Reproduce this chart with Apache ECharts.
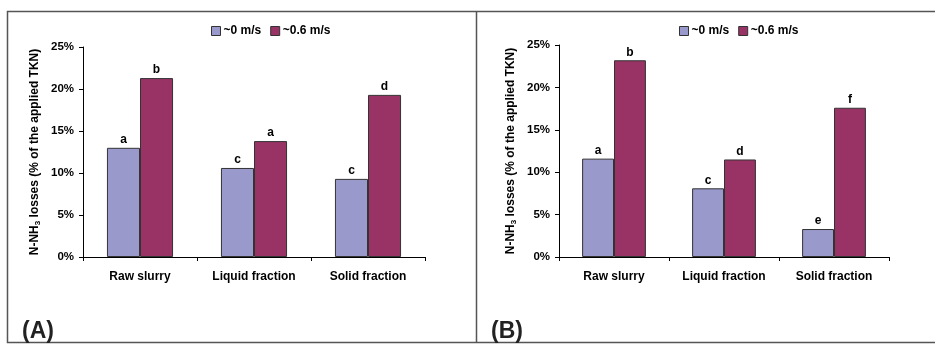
<!DOCTYPE html>
<html>
<head>
<meta charset="utf-8">
<script src="https://cdn.jsdelivr.net/npm/echarts@6/dist/echarts.min.js"></script>
<style>
  html, body { margin: 0; padding: 0; background: #fff; }
  #chart { width: 935px; height: 345px; }
</style>
</head>
<body>
<div id="chart"></div>
<script>
const categories = ["Raw slurry", "Liquid fraction", "Solid fraction"];
const seriesNames = ["~0 m/s", "~0.6 m/s"];
// panel A values (% of applied TKN)
const calmA = [13.0, 10.6, 9.3];
const windA = [21.3, 13.8, 19.3];
const calmLettersA = ["a", "c", "c"];
const windLettersA = ["b", "a", "d"];
// panel B values
const calmB = [11.6, 8.1, 3.3];
const windB = [23.2, 11.5, 17.6];
const calmLettersB = ["a", "c", "e"];
const windLettersB = ["b", "d", "f"];
const yTicks = [0, 5, 10, 15, 20, 25];

const FONT = "Liberation Sans, Arial, sans-serif";
const BLUE = "#9999cc";
const RED = "#993366";

const chart = echarts.init(document.getElementById("chart"));

function makeLegend(left) {
  return {
    left,
    top: 20,
    itemWidth: 9,
    itemHeight: 9,
    itemGap: 9,
    icon: "rect",
    itemStyle: { borderColor: "#333", borderWidth: 1 },
    textStyle: { fontFamily: FONT, fontWeight: "bold", fontSize: 12, color: "#000", padding: [0, 0, 0, -2] },
    data: seriesNames,
  };
}

function makeX(gridIndex) {
  return {
    type: "category",
    gridIndex,
    data: categories,
    axisLine: { lineStyle: { color: "#000", width: 1 } },
    axisTick: { show: true, length: 4, lineStyle: { color: "#000" } },
    axisLabel: { fontFamily: FONT, fontWeight: "bold", fontSize: 12, color: "#000", margin: 14 },
  };
}

function makeY(gridIndex) {
  return {
    type: "value",
    gridIndex,
    min: yTicks[0],
    max: yTicks[yTicks.length - 1],
    interval: 5,
    name: "{t|N-NH}{s|3}{t| losses (% of the applied TKN)}",
    nameLocation: "middle",
    nameRotate: 90,
    nameGap: 41,
    nameTextStyle: {
      rich: {
        t: { fontFamily: FONT, fontWeight: "bold", fontSize: 12, color: "#000" },
        s: { fontFamily: FONT, fontWeight: "bold", fontSize: 8, color: "#000", verticalAlign: "bottom", padding: [6, 0, 0, 0] },
      },
    },
    axisLine: { show: true, lineStyle: { color: "#000", width: 1 } },
    axisTick: { show: true, length: 4, lineStyle: { color: "#000" } },
    axisLabel: { fontFamily: FONT, fontWeight: "bold", fontSize: 11.5, color: "#000", margin: 9, formatter: "{value}%" },
    splitLine: { show: false },
  };
}

function makeBar(name, idx, data, letters, color) {
  return {
    name,
    type: "bar",
    xAxisIndex: idx,
    yAxisIndex: idx,
    data,
    barGap: "0%",
    barCategoryGap: "42%",
    itemStyle: { color, borderColor: "#333", borderWidth: 1 },
    label: {
      show: true,
      position: "top",
      distance: 2,
      fontFamily: FONT,
      fontWeight: "bold",
      fontSize: 12,
      color: "#000",
      formatter: (p) => letters[p.dataIndex],
    },
    emphasis: { disabled: true },
  };
}

chart.setOption({
  animation: false,
  color: [BLUE, RED],
  legend: [makeLegend(206), makeLegend(674)],
  grid: [
    { left: 83, right: 510, top: 47, bottom: 88 },
    { left: 559, right: 46, top: 45, bottom: 88 },
  ],
  xAxis: [makeX(0), makeX(1)],
  yAxis: [makeY(0), makeY(1)],
  series: [
    makeBar(seriesNames[0], 0, calmA, calmLettersA, BLUE),
    makeBar(seriesNames[1], 0, windA, windLettersA, RED),
    makeBar(seriesNames[0], 1, calmB, calmLettersB, BLUE),
    makeBar(seriesNames[1], 1, windB, windLettersB, RED),
  ],
  graphic: [
    { type: "rect", shape: { x: 7.5, y: 11.5, width: 940, height: 331 }, style: { fill: "none", stroke: "#555", lineWidth: 1.5 }, silent: true },
    { type: "line", shape: { x1: 476.5, y1: 11.5, x2: 476.5, y2: 342.5 }, style: { stroke: "#555", lineWidth: 1.5 }, silent: true },
    { type: "text", left: 22, top: 320, style: { text: "(A)", font: "bold 23px " + FONT, fill: "#222" }, z: 10, silent: true },
    { type: "text", left: 491, top: 320, style: { text: "(B)", font: "bold 23px " + FONT, fill: "#222" }, z: 10, silent: true },
  ],
});
</script>
</body>
</html>
